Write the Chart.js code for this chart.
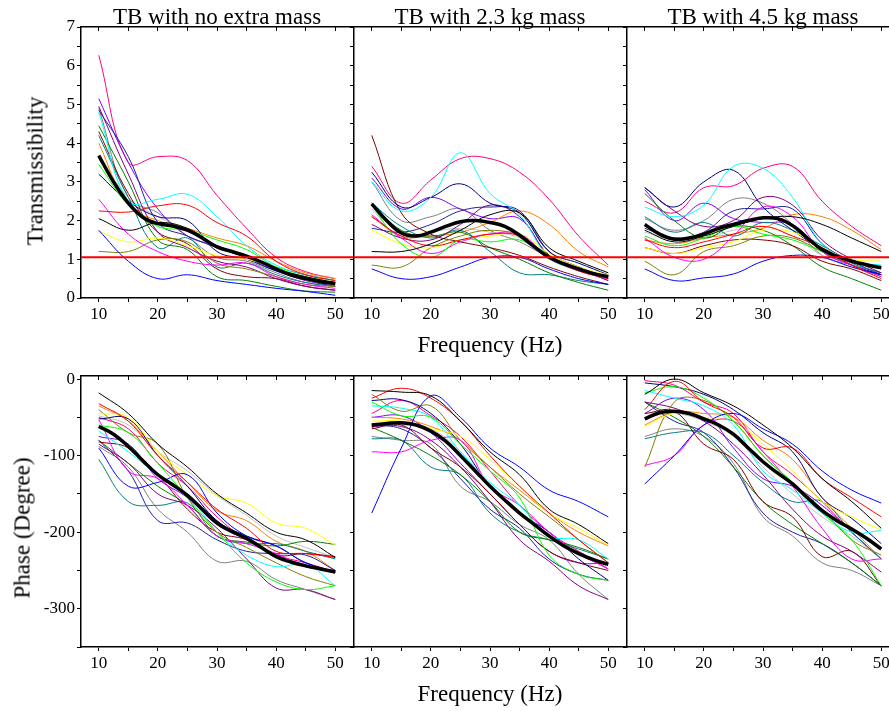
<!DOCTYPE html>
<html>
<head>
<meta charset="utf-8">
<script src="https://cdn.jsdelivr.net/npm/chart.js@4.4.1/dist/chart.umd.min.js"></script>
<style>
  html, body { margin: 0; padding: 0; background: #fff; }
  #wrap { position: relative; width: 889px; height: 711px; overflow: hidden; }
  #wrap canvas { position: absolute; }
  .lbl { position: absolute; font-family: "Liberation Serif", "Times New Roman", serif; font-size: 23px; line-height: 23px; white-space: nowrap; color: #000; }
</style>
</head>
<body>
<div id="wrap"></div>
<script>
// frequency grid of the single-subject curves and of the mean curve (Hz)
const freq = [10, 15, 20, 25, 30, 35, 40, 45, 50];
const freqMean = [10, 12.5, 15, 17.5, 20, 22.5, 25, 27.5, 30, 32.5, 35, 37.5, 40, 42.5, 45, 47.5, 50];

const xTickLabels = [10, 20, 30, 40, 50];
const transTickLabels = [0, 1, 2, 3, 4, 5, 6, 7];
const phaseTickLabels = [0, -100, -200, -300];
const panelTitles = ['TB with no extra mass', 'TB with 2.3 kg mass', 'TB with 4.5 kg mass'];
const refLevel = 1.05; // red reference line, transmissibility ~ 1

// one colour per subject (same order in every data table below)
const subjectColors = ['#000000', '#ff0000', '#00ff00', '#0000ff', '#00ffff', '#ff00ff', '#ffff00',
  '#808000', '#000080', '#800080', '#800000', '#008000', '#008080', '#2020a0', '#ff8000',
  '#8000ff', '#ff0080', '#c0c0c0', '#808080'];

// transmissibility, no extra mass
const transNone = [
  [2.05, 1.75, 1.95, 1.8, 1.35, 1.1, 0.75, 0.55, 0.4],
  [2.25, 2.22, 2.38, 2.4, 1.95, 1.6, 0.95, 0.6, 0.45],
  [3.45, 2.4, 1.85, 1.75, 1.5, 1.25, 0.8, 0.55, 0.4],
  [1.75, 0.95, 0.5, 0.6, 0.45, 0.35, 0.25, 0.17, 0.07],
  [4.8, 2.5, 2.55, 2.68, 2.1, 1.35, 0.85, 0.6, 0.45],
  [2.55, 1.65, 1.2, 0.95, 0.85, 0.9, 0.55, 0.35, 0.25],
  [1.72, 1.45, 1.55, 1.35, 1.1, 1.0, 0.8, 0.55, 0.45],
  [1.2, 1.2, 1.5, 1.45, 0.9, 0.75, 0.55, 0.35, 0.3],
  [3.2, 2.5, 2.1, 2.0, 1.2, 1.0, 0.7, 0.5, 0.4],
  [4.95, 3.2, 1.7, 1.3, 0.95, 0.8, 0.5, 0.3, 0.2],
  [4.3, 2.7, 1.7, 1.4, 0.75, 0.55, 0.5, 0.3, 0.2],
  [4.45, 3.0, 1.5, 1.25, 0.55, 0.45, 0.3, 0.18, 0.15],
  [4.2, 2.6, 1.3, 1.55, 0.8, 0.9, 0.6, 0.4, 0.3],
  [4.85, 3.65, 1.95, 1.6, 1.3, 1.05, 0.8, 0.6, 0.45],
  [4.0, 2.4, 2.0, 1.8, 1.55, 1.35, 0.95, 0.65, 0.5],
  [5.15, 3.5, 2.3, 1.6, 1.35, 1.05, 0.7, 0.45, 0.3],
  [6.27, 3.5, 3.65, 3.55, 2.65, 1.8, 1.05, 0.68, 0.5],
  [3.7, 2.6, 2.1, 1.75, 1.3, 1.1, 0.75, 0.5, 0.35],
  [4.9, 2.6, 2.2, 1.6, 1.05, 0.95, 0.65, 0.4, 0.3]
];
const transNoneMean = [3.68, 3.0, 2.45, 2.08, 1.92, 1.86, 1.75, 1.55, 1.32, 1.2, 1.08, 0.93, 0.75, 0.6, 0.5, 0.42, 0.37];

// transmissibility, 2.3 kg mass
const trans23 = [
  [1.2, 1.2, 1.4, 1.75, 2.15, 2.2, 1.3, 0.95, 0.65],
  [2.1, 1.6, 1.35, 1.5, 1.65, 1.6, 1.05, 0.7, 0.5],
  [2.4, 1.4, 1.05, 1.5, 1.45, 1.5, 1.05, 0.75, 0.55],
  [0.75, 0.5, 0.55, 0.8, 1.05, 1.05, 0.75, 0.5, 0.35],
  [3.0, 2.25, 2.6, 3.75, 2.7, 2.15, 1.05, 0.75, 0.55],
  [2.15, 1.55, 1.15, 1.45, 1.65, 1.65, 1.05, 0.7, 0.5],
  [1.75, 1.4, 1.3, 1.5, 1.6, 1.65, 1.15, 0.8, 0.6],
  [0.85, 0.8, 1.3, 1.6, 1.75, 1.6, 1.1, 0.75, 0.55],
  [3.25, 2.35, 2.6, 2.95, 2.45, 2.2, 1.2, 0.9, 0.6],
  [1.9, 1.55, 1.5, 1.9, 2.4, 2.1, 1.1, 0.75, 0.45],
  [4.2, 2.2, 1.65, 1.45, 1.3, 1.1, 0.8, 0.55, 0.35],
  [2.45, 1.75, 1.6, 1.7, 1.3, 1.0, 0.65, 0.4, 0.2],
  [2.45, 1.85, 1.55, 1.75, 1.2, 0.65, 0.6, 0.45, 0.35],
  [1.8, 1.7, 1.9, 2.25, 2.35, 2.25, 1.2, 0.8, 0.55],
  [2.1, 1.6, 1.6, 1.7, 1.95, 2.25, 1.9, 1.2, 0.8],
  [3.1, 2.3, 2.6, 2.3, 2.05, 2.05, 1.1, 0.8, 0.5],
  [3.4, 2.45, 3.05, 3.6, 3.6, 3.25, 2.55, 1.6, 0.85],
  [2.3, 1.55, 1.7, 1.8, 1.7, 1.55, 1.0, 0.7, 0.5],
  [3.0, 2.0, 2.1, 2.3, 1.75, 1.45, 1.05, 0.75, 0.45]
];
const trans23Mean = [2.43, 2.0, 1.68, 1.6, 1.7, 1.85, 1.97, 2.0, 1.95, 1.85, 1.62, 1.32, 1.05, 0.88, 0.75, 0.63, 0.55];

// transmissibility, 4.5 kg mass
const trans45 = [
  [1.75, 1.45, 1.6, 1.85, 2.05, 2.1, 1.9, 1.55, 1.2],
  [1.5, 1.3, 1.45, 1.65, 1.85, 1.6, 1.3, 0.85, 0.5],
  [1.6, 1.35, 1.55, 1.85, 1.65, 1.5, 1.2, 0.95, 0.75],
  [0.75, 0.45, 0.52, 0.62, 0.95, 1.1, 1.05, 0.8, 0.6],
  [2.35, 2.1, 2.4, 3.4, 3.35, 2.6, 1.4, 0.95, 0.85],
  [1.55, 1.05, 1.0, 1.6, 2.35, 2.1, 1.2, 0.85, 0.55],
  [1.3, 1.15, 1.3, 1.45, 1.75, 1.7, 1.3, 1.0, 0.95],
  [0.95, 0.6, 1.2, 1.35, 1.6, 1.55, 1.2, 0.85, 0.55],
  [2.85, 2.35, 3.0, 3.3, 2.35, 1.75, 1.25, 0.85, 0.6],
  [2.85, 2.25, 1.85, 2.0, 2.6, 2.4, 1.5, 1.0, 0.65],
  [1.3, 1.15, 1.35, 1.5, 1.5, 1.35, 0.95, 0.75, 0.45],
  [2.7, 2.0, 1.55, 1.85, 1.75, 1.35, 0.8, 0.5, 0.2],
  [2.1, 1.7, 1.95, 1.6, 1.95, 1.75, 1.35, 0.9, 0.65],
  [1.8, 1.55, 1.7, 2.25, 2.3, 2.3, 1.4, 0.95, 0.6],
  [1.5, 1.4, 1.55, 1.65, 1.8, 2.15, 2.1, 1.75, 1.25],
  [2.8, 2.0, 2.45, 2.05, 1.95, 1.9, 1.2, 0.85, 0.6],
  [2.5, 2.2, 2.85, 2.9, 3.35, 3.4, 2.5, 1.85, 1.35],
  [1.7, 1.5, 1.55, 1.75, 1.85, 1.6, 1.1, 0.8, 0.6],
  [2.05, 1.75, 2.0, 2.55, 2.45, 1.9, 1.1, 0.85, 0.65]
];
const trans45Mean = [1.9, 1.65, 1.52, 1.55, 1.65, 1.8, 1.9, 2.0, 2.07, 2.05, 1.87, 1.55, 1.25, 1.08, 0.95, 0.86, 0.78];

// phase (degree), no extra mass
const phaseNone = [
  [-18, -45, -85, -115, -150, -175, -200, -210, -233],
  [-32, -55, -100, -135, -170, -195, -225, -228, -233],
  [-60, -70, -110, -155, -200, -240, -265, -275, -270],
  [-90, -140, -135, -125, -175, -205, -218, -240, -252],
  [-68, -95, -125, -150, -200, -230, -245, -242, -270],
  [-53, -120, -130, -165, -205, -215, -228, -245, -252],
  [-45, -50, -95, -125, -152, -162, -188, -195, -217],
  [-40, -70, -85, -155, -200, -220, -240, -258, -270],
  [-52, -52, -100, -140, -185, -205, -218, -240, -252],
  [-85, -110, -150, -165, -195, -235, -273, -275, -288],
  [-82, -90, -125, -170, -200, -210, -230, -228, -232],
  [-80, -110, -140, -165, -205, -213, -218, -212, -216],
  [-105, -160, -165, -162, -205, -215, -215, -225, -235],
  [-80, -120, -185, -188, -210, -225, -228, -230, -250],
  [-35, -55, -95, -135, -172, -185, -212, -225, -250],
  [-75, -85, -130, -155, -190, -210, -230, -245, -250],
  [-50, -65, -110, -140, -180, -210, -230, -240, -252],
  [-48, -60, -95, -120, -152, -178, -205, -220, -233],
  [-88, -115, -170, -200, -238, -238, -262, -275, -288]
];
const phaseNoneMean = [-62, -72, -88, -107, -125, -138, -152, -170, -188, -199, -208, -220, -232, -239, -244, -248, -252];

// phase (degree), 2.3 kg mass
const phase23 = [
  [-15, -17, -22, -55, -95, -125, -170, -190, -215],
  [-25, -12, -25, -55, -100, -140, -175, -210, -240],
  [-30, -48, -50, -85, -120, -155, -230, -255, -263],
  [-175, -90, -22, -50, -90, -115, -145, -160, -180],
  [-35, -38, -50, -95, -135, -165, -205, -210, -235],
  [-95, -95, -80, -80, -140, -165, -200, -228, -248],
  [-55, -55, -65, -75, -105, -140, -175, -195, -217],
  [-20, -42, -35, -80, -115, -150, -180, -210, -240],
  [-28, -27, -45, -85, -140, -175, -200, -235, -263],
  [-62, -62, -80, -115, -160, -210, -238, -270, -288],
  [-65, -60, -90, -115, -150, -190, -225, -240, -250],
  [-63, -80, -100, -125, -160, -200, -210, -220, -235],
  [-78, -80, -115, -125, -175, -200, -210, -222, -235],
  [-60, -65, -90, -130, -170, -195, -235, -255, -263],
  [-50, -52, -62, -80, -115, -145, -175, -200, -218],
  [-50, -48, -70, -110, -150, -190, -225, -240, -240],
  [-45, -28, -48, -75, -120, -165, -200, -225, -248],
  [-58, -60, -65, -95, -140, -175, -205, -225, -248],
  [-75, -80, -85, -140, -160, -190, -210, -255, -288]
];
const phase23Mean = [-60, -58, -57, -60, -68, -81, -100, -120, -140, -158, -175, -190, -205, -218, -228, -236, -242];

// phase (degree), 4.5 kg mass
const phase45 = [
  [-20, 0, -18, -35, -60, -90, -130, -160, -195],
  [-40, -3, -30, -50, -90, -90, -130, -155, -180],
  [-18, -10, -25, -55, -100, -135, -175, -210, -270],
  [-137, -100, -60, -45, -65, -85, -120, -145, -162],
  [-15, -25, -35, -60, -120, -145, -175, -200, -198],
  [-113, -100, -60, -55, -95, -140, -195, -235, -235],
  [-62, -45, -50, -55, -85, -120, -160, -180, -197],
  [-115, -30, -28, -55, -100, -135, -170, -210, -230],
  [-5, -10, -20, -40, -70, -95, -155, -182, -215],
  [-30, -38, -55, -85, -125, -170, -205, -225, -252],
  [-45, -42, -85, -105, -160, -180, -232, -225, -270],
  [-30, -50, -75, -115, -160, -190, -215, -240, -270],
  [-78, -70, -70, -100, -135, -160, -160, -200, -235],
  [-30, -55, -70, -115, -175, -200, -215, -240, -270],
  [-60, -43, -45, -50, -80, -105, -155, -195, -235],
  [-45, -25, -40, -90, -130, -140, -165, -200, -235],
  [-2, -8, -30, -45, -95, -125, -160, -200, -235],
  [-50, -45, -55, -75, -115, -150, -180, -205, -235],
  [-75, -65, -75, -110, -180, -205, -240, -250, -270]
];
const phase45Mean = [-52, -44, -42, -45, -52, -60, -72, -90, -108, -123, -137, -155, -172, -185, -196, -208, -222];

// layout of the six panels (px)
const plotLeft = [81, 354, 627];
const plotW = 272;
const rowTop = [27, 376];
const plotH = 271;
const LW = 60, TH = 14, BH = 30, RP = 4;

const wrap = document.getElementById('wrap');
const tickFont = { family: 'Liberation Serif', size: 17 };
const axisBorder = { display: true, color: '#000', width: 1.5 };
// ticks point outward on left / bottom, inward on the top axis
const outGrid = { drawOnChartArea: false, drawTicks: true, tickLength: 4, color: '#000', lineWidth: 1 };
const inGrid = { drawOnChartArea: false, drawTicks: true, tickLength: -4, color: '#000', lineWidth: 1 };

function toPoints(xs, ys) {
  return xs.map((f, i) => ({ x: f, y: ys[i] }));
}

function makePanel(col, row, series, meanVals) {
  const cv = document.createElement('canvas');
  cv.width = LW + plotW + RP;
  cv.height = TH + plotH + BH;
  cv.style.left = (plotLeft[col] - LW) + 'px';
  cv.style.top = (rowTop[row] - TH) + 'px';
  wrap.appendChild(cv);

  const isTrans = row === 0;
  const labels = isTrans ? transTickLabels : phaseTickLabels;
  const datasets = [];
  if (isTrans) {
    datasets.push({ data: [{ x: 7, y: refLevel }, { x: 53, y: refLevel }], borderColor: '#ff0000', borderWidth: 2, tension: 0, order: 0 });
  }
  datasets.push({ data: toPoints(freqMean, meanVals), borderColor: '#000', borderWidth: 3.5, order: 1 });
  series.forEach((vals, k) => {
    datasets.push({ data: toPoints(freq, vals), borderColor: subjectColors[k], borderWidth: 1, order: 2 });
  });

  new Chart(cv, {
    type: 'line',
    data: { datasets: datasets },
    options: {
      responsive: false,
      animation: false,
      devicePixelRatio: 1,
      layout: { padding: { left: 0, right: RP, top: 0, bottom: 0 } },
      elements: {
        point: { radius: 0 },
        line: { tension: 0.4, fill: false }
      },
      plugins: { legend: { display: false }, tooltip: { enabled: false }, title: { display: false } },
      scales: {
        x: {
          type: 'linear', position: 'bottom', min: 7, max: 53,
          afterFit: (a) => { a.height = BH; },
          ticks: {
            stepSize: 5, includeBounds: false, autoSkip: false, maxRotation: 0, minRotation: 0,
            padding: 2, color: '#000', font: tickFont,
            callback: (v) => xTickLabels.includes(v) ? String(v) : ''
          },
          grid: outGrid, border: axisBorder
        },
        x2: {
          type: 'linear', position: 'top', min: 7, max: 53,
          afterFit: (a) => { a.height = TH; },
          ticks: { display: false, stepSize: 5, includeBounds: false, autoSkip: false },
          grid: inGrid, border: axisBorder
        },
        y: {
          type: 'linear', position: 'left',
          min: isTrans ? 0 : -350, max: isTrans ? 7 : 4,
          afterFit: (a) => { a.width = LW; },
          ticks: {
            stepSize: isTrans ? 0.5 : 50, includeBounds: false, autoSkip: false, maxTicksLimit: 20,
            padding: 2, color: '#000', font: tickFont,
            callback: (v) => (col === 0 && labels.includes(v)) ? String(v) : ''
          },
          grid: outGrid, border: axisBorder
        }
      }
    }
  });
}

makePanel(0, 0, transNone, transNoneMean);
makePanel(1, 0, trans23, trans23Mean);
makePanel(2, 0, trans45, trans45Mean);
makePanel(0, 1, phaseNone, phaseNoneMean);
makePanel(1, 1, phase23, phase23Mean);
makePanel(2, 1, phase45, phase45Mean);

// text labels
function addLabel(text, x, y, rotate) {
  const d = document.createElement('div');
  d.className = 'lbl';
  d.textContent = text;
  d.style.left = x + 'px';
  d.style.top = y + 'px';
  d.style.transform = rotate ? 'translate(-50%, -50%) rotate(-90deg)' : 'translateX(-50%)';
  wrap.appendChild(d);
}
panelTitles.forEach((t, c) => addLabel(t, plotLeft[c] + plotW / 2, 4.5, false));
addLabel('Frequency (Hz)', 490, 332.7, false);
addLabel('Frequency (Hz)', 490, 681.7, false);
addLabel('Transmissibility', 35, 171, true);
addLabel('Phase (Degree)', 21.7, 528, true);
</script>
</body>
</html>
